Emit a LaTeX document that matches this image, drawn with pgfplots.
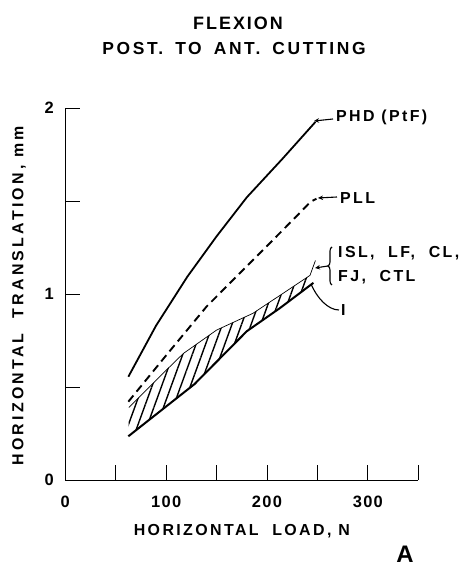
\documentclass[border=0pt]{standalone}
\usepackage{fontspec}
\setmainfont{Liberation Sans}[LetterSpace=15]
\newfontfamily\tickfont{Liberation Sans}[LetterSpace=8]
\newfontfamily\ylabfont{Liberation Sans}[LetterSpace=20]
\newfontfamily\titlefont{Liberation Sans}[LetterSpace=11]
\usepackage{pgfplots}
\pgfplotsset{compat=1.18}
\usepgfplotslibrary{fillbetween}
\usetikzlibrary{patterns.meta,arrows.meta,decorations.pathreplacing}

\newcommand{\lab}{\bfseries\fontsize{16}{16}\selectfont}

\begin{document}
\begin{tikzpicture}
\begin{axis}[
    scale only axis,
    width=353bp, height=372bp,
    xmin=0, xmax=350, ymin=0, ymax=2,
    axis lines=left,
    every outer x axis line/.append style={-},
    every outer y axis line/.append style={-},
    axis line style={line width=0.9bp},
    xtick={0,100,200,300}, minor xtick={50,150,250,350},
    ytick={0,1,2}, minor ytick={0.5,1.5},
    tick align=inside,
    major tick length=15bp, minor tick length=15bp,
    tick style={line width=0.9bp, black},
    /pgf/number format/assume math mode=true,
    ticklabel style={font=\tickfont\bfseries\fontsize{16.5}{16.5}\selectfont},
    xticklabel style={yshift=-13bp},
    yticklabel style={xshift=-8bp},
    xlabel={HORIZONTAL\ \ LOAD,\ N},
    ylabel={\ylabfont HORIZONTAL\ \ TRANSLATION,\ mm},
    label style={font=\lab},
    xlabel style={at={(axis description cs:0.5,0)}, anchor=center, yshift=-51bp},
    ylabel style={at={(axis description cs:-0.131,0.495)}, anchor=center},
    clip=false,
]
% PHD (PtF)
\addplot[black, line width=1.8bp] coordinates {
    (62.5,0.555) (90,0.83) (121,1.093) (150,1.31) (180,1.52) (215,1.725) (248,1.925)
};
% PLL
\addplot[black, line width=1.9bp, dash pattern=on 8bp off 5bp] coordinates {
    (62.5,0.421) (100,0.67) (140,0.932) (180,1.15) (215,1.34) (235,1.45) (243,1.495) (249,1.512)
};
% ISL, LF, CL, FJ, CTL band (upper edge)
\addplot[name path=up, black, line width=0.7bp] coordinates {
    (63,0.39) (100,0.59) (117,0.68) (150,0.806) (186,0.896) (226,1.04) (242.6,1.10) (248,1.18)
};
% I (lower edge)
\addplot[name path=lo, black, line width=2bp] coordinates {
    (62.5,0.235) (128,0.515) (180,0.80) (213,0.925) (246,1.06)
};
\addplot[draw=none, pattern={Lines[angle=70,distance=9bp,line width=1.4bp]}]
    fill between[of=up and lo];
\end{axis}

\begin{scope}[x=1bp, y=-1bp, shift={(-65.3bp,480bp)}]
\node[font=\titlefont\bfseries\fontsize{18}{18}\selectfont] at (238,23) {FLEXION};
\node[font=\bfseries\fontsize{17.5}{17.5}\selectfont] at (234,48.5)
    {POST.\hspace{12bp}TO\hspace{12bp}ANT.\hspace{12bp}CUTTING};

\draw[line width=1.1bp, -{Stealth[length=5bp,width=4.5bp]}] (333,119) -- (314,121);
\node[font=\lab, anchor=west, inner sep=0pt] at (336,117) {PHD (PtF)};

\draw[line width=1.1bp, -{Stealth[length=5bp,width=4.5bp]}] (337,197) -- (318,198);
\node[font=\lab, anchor=west, inner sep=0pt] at (340,198) {PLL};

\draw[line width=1.1bp, decorate, decoration={brace, amplitude=4bp}] (332,285) -- (332,247);
\draw[line width=1.1bp, -{Stealth[length=5bp,width=4.5bp]}] (328,266) -- (315,268);
\node[font=\lab, anchor=west, inner sep=0pt] at (338,253.3) {ISL,\ \ LF,\ \ CL,};
\node[font=\lab, anchor=west, inner sep=0pt] at (338,276.7) {FJ,\ \ CTL};

\draw[line width=1.1bp] (339,310) .. controls (328,310) and (317,298) .. (311,284);
\node[font=\lab, anchor=west, inner sep=0pt] at (341,310) {I};

\node[font=\bfseries\fontsize{24}{24}\selectfont, inner sep=0pt] at (405,554) {A};
\end{scope}
\pgfresetboundingbox
\path (-65.3bp,-87bp) rectangle (398.7bp,480bp);
\end{tikzpicture}
\end{document}
